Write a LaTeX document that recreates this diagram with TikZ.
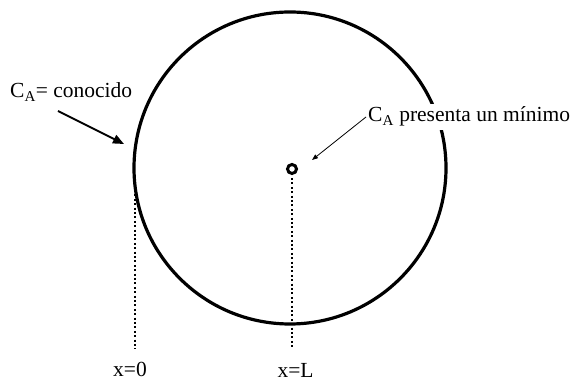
\documentclass[tikz,border=0pt]{standalone}
\usepackage{fontspec}
\setmainfont{Liberation Serif}
\usetikzlibrary{arrows.meta}
\begin{document}
\begin{tikzpicture}[x=1pt,y=1pt,
  lbl/.style={inner sep=0pt,font=\fontsize{21.5}{25}\selectfont},
  dotline/.style={line width=2pt,dash pattern=on 2pt off 2.4pt}]
\useasboundingbox (0,0) rectangle (575,382);
% main circle
\draw[line width=3.2pt] (290,214) circle (156);
% ring (minimum)
\node[circle,draw,line width=3pt,minimum size=9pt,inner sep=0pt] (ring) at (292,213) {};
% dotted lines
\coordinate (l0top) at (135,192);
\coordinate (l0bot) at (135,33);
\coordinate (lLbot) at (292,33);
\draw[dotline] (l0top) -- (l0bot);
\draw[dotline] (ring.south) ++(0,-3) -- (lLbot);
% labels
\node[lbl,anchor=base west] (known) at (10,284) {C\textsubscript{A}= conocido};
\node[lbl,anchor=base west,fill=white,inner xsep=1pt,inner ysep=3pt] (minl) at (367,260) {C\textsubscript{A} presenta un mínimo};
\node[lbl,anchor=base] (x0) at (130,5) {x=0};
\node[lbl,anchor=base] (xL) at (295.5,4) {x=L};
% arrows
\coordinate (kstart) at (58,271);
\coordinate (ktip) at (124,238);
\draw[line width=2pt,-{Triangle[length=11pt,width=9pt]}] (kstart) -- (ktip);
\coordinate (mstart) at (366,265);
\coordinate (mtip) at (312,222);
\draw[line width=0.8pt,-{Triangle[length=6pt,width=4.5pt]}] (mstart) -- (mtip);
\end{tikzpicture}
\end{document}
